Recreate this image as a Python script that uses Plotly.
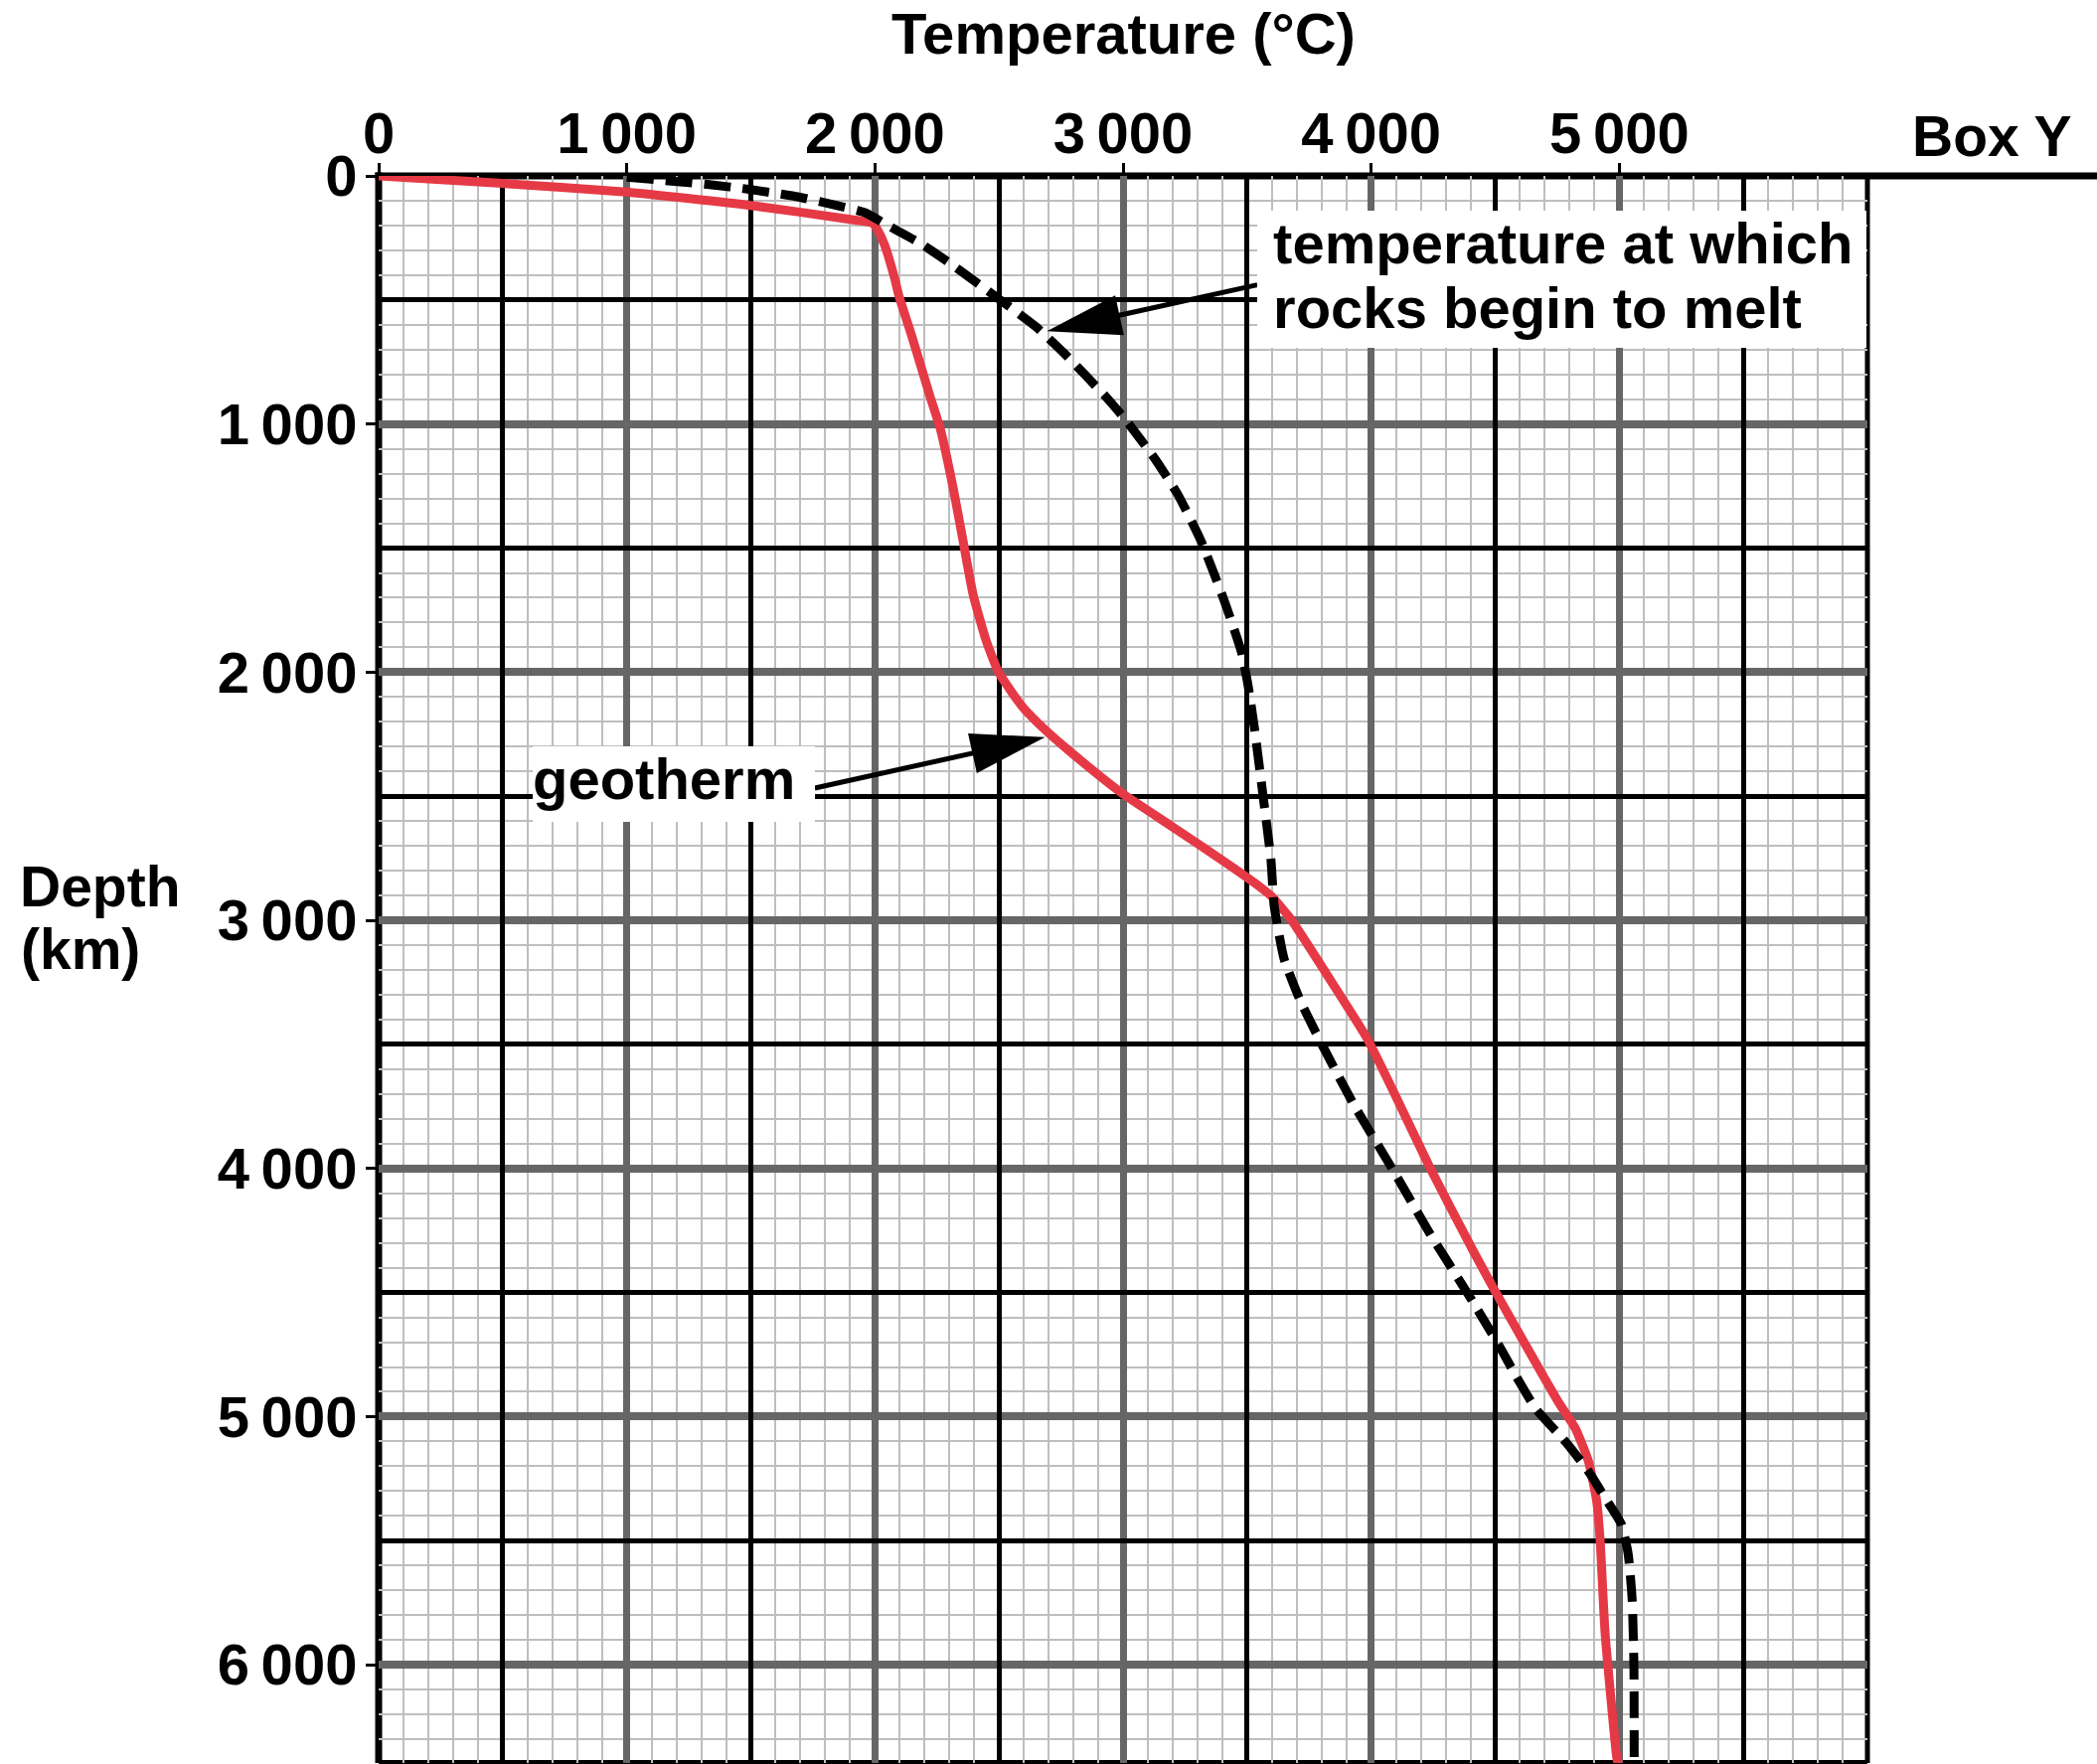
import math
import plotly.graph_objects as go

# ---------------- data ----------------
geotherm_temp = [0, 500, 1000, 1500, 1900, 1990, 2015, 2040, 2080, 2098, 2147, 2222,
                 2264, 2316, 2356, 2396, 2449, 2496, 2529, 2596, 2689, 2796, 2996,
                 3196, 3396, 3529, 3596, 3676, 3823, 3983, 4089, 4236, 4409, 4496,
                 4609, 4690, 4760, 4823, 4876, 4909, 4923, 4943, 4989, 4995]
geotherm_depth = [0, 30, 65, 119, 175, 190, 225, 281, 415, 488, 640, 888,
                  1021, 1261, 1475, 1688, 1875, 1995, 2048, 2141, 2235, 2328, 2488,
                  2621, 2755, 2848, 2901, 2995, 3221, 3475, 3688, 3995, 4328, 4488,
                  4688, 4830, 4950, 5048, 5181, 5341, 5501, 5875, 6368, 6400]

melt_temp = [1000, 1333, 1500, 1693, 1827, 1960, 2067, 2180, 2300, 2410, 2516, 2649,
             2763, 2929, 3009, 3129, 3223, 3316, 3409, 3476, 3503, 3529, 3563, 3596,
             3609, 3649, 3716, 3809, 3929, 4089, 4236, 4396, 4516, 4583, 4663, 4783,
             4876, 4943, 5009, 5036, 5052, 5059, 5060]
melt_depth = [5, 35, 55, 85, 115, 148, 208, 270, 350, 430, 508, 608,
              715, 888, 981, 1141, 1288, 1475, 1715, 1915, 2048, 2221, 2488, 2755,
              2941, 3155, 3328, 3515, 3741, 4008, 4261, 4515, 4715, 4835, 4968, 5101,
              5221, 5328, 5435, 5555, 5741, 6008, 6400]

temp_tick_vals = [0, 1000, 2000, 3000, 4000, 5000]
temp_tick_text = ["0", "1\u2009000", "2\u2009000", "3\u2009000", "4\u2009000", "5\u2009000"]
depth_tick_vals = [0, 1000, 2000, 3000, 4000, 5000, 6000]
depth_tick_text = ["0", "1\u2009000", "2\u2009000", "3\u2009000", "4\u2009000",
                   "5\u2009000", "6\u2009000"]
temp_half_lines = [500, 1500, 2500, 3500, 4500, 5500]
depth_half_lines = [500, 1500, 2500, 3500, 4500, 5500]

# annotation anchor points (temperature, depth)
melt_arrow_tip = (2693, 626)
melt_arrow_tail = (3541, 439)
geo_arrow_tip = (2686, 2262)
geo_arrow_tail = (1758, 2467)

# ---------------- layout geometry ----------------
W, H = 2110, 1775
ML, MT = 381, 177
PW, PH = 1498, 1597
MR = W - ML - PW
MB = H - MT - PH
X_RANGE = [0, 6000]
Y_RANGE = [6396, 0]

FONT = "Liberation Sans, Arial, Helvetica, sans-serif"
RED = "#E63946"
MINOR = "#BEBEBE"
MAJOR = "#666666"


def pxx(px):
    return (px - ML) / PW


def pxy(py):
    return 1 - (py - MT) / PH


def bold(size):
    return dict(family=FONT, size=size, color="black", weight="bold")


fig = go.Figure()

fig.add_trace(go.Scatter(x=geotherm_temp, y=geotherm_depth, mode="lines",
                         line=dict(color=RED, width=9, shape="spline", smoothing=0.5),
                         showlegend=False, hoverinfo="skip"))
fig.add_trace(go.Scatter(x=melt_temp, y=melt_depth, mode="lines",
                         line=dict(color="black", width=9, dash="27px,12px",
                                   shape="spline", smoothing=0.5),
                         showlegend=False, hoverinfo="skip"))
# dummy trace so the overlay axes (half-step grid lines) exist
fig.add_trace(go.Scatter(x=[None], y=[None], xaxis="x2", yaxis="y2",
                         showlegend=False, hoverinfo="skip"))

shapes = []


def add_arrow(tip, tail, head_len=300, head_hw=82, width=5):
    tx, ty = tip
    sx, sy = tail
    dx, dy = tx - sx, ty - sy
    L = math.hypot(dx, dy)
    ux, uy = dx / L, dy / L
    bx, by = tx - head_len * ux, ty - head_len * uy
    nx, ny = -uy, ux
    c1 = (bx + head_hw * nx, by + head_hw * ny)
    c2 = (bx - head_hw * nx, by - head_hw * ny)
    shapes.append(dict(type="line", xref="x", yref="y", x0=sx, y0=sy,
                       x1=bx + 20 * ux, y1=by + 20 * uy,
                       line=dict(color="black", width=width), layer="above"))
    shapes.append(dict(type="path", xref="x", yref="y",
                       path=f"M{tx},{ty} L{c1[0]},{c1[1]} L{c2[0]},{c2[1]} Z",
                       fillcolor="black", line=dict(width=0), layer="above"))


add_arrow(melt_arrow_tip, melt_arrow_tail)
add_arrow(geo_arrow_tip, geo_arrow_tail)

# frame lines
shapes += [
    dict(type="line", xref="paper", yref="paper", x0=0, x1=0, y0=0, y1=1 + 3.5 / PH,
         line=dict(color="black", width=7), layer="between"),
    dict(type="line", xref="paper", yref="paper", x0=-3.5 / PW, x1=pxx(W + 5), y0=1, y1=1,
         line=dict(color="black", width=7), layer="between"),
    dict(type="line", xref="paper", yref="paper", x0=1, x1=1, y0=0, y1=1,
         line=dict(color="black", width=5), layer="between"),
    dict(type="line", xref="paper", yref="paper", x0=0, x1=1, y0=0, y1=0,
         line=dict(color="black", width=6), layer="between"),
]

annotations = [
    dict(text="Temperature (°C)", xref="paper", yref="paper", x=0.5, y=pxy(34),
         xanchor="center", yanchor="middle", showarrow=False, font=bold(58)),
    dict(text="Box Y", xref="paper", yref="paper", x=pxx(2005), y=pxy(137),
         xanchor="center", yanchor="middle", showarrow=False, font=bold(57)),
    dict(text="Depth", xref="paper", yref="paper", x=pxx(18), y=pxy(892),
         xanchor="left", yanchor="middle", showarrow=False, font=bold(57)),
    dict(text="(km)", xref="paper", yref="paper", x=pxx(19), y=pxy(955),
         xanchor="left", yanchor="middle", showarrow=False, font=bold(57)),
    # melt label, second line first so the first line box sits on top
    dict(text="\u00a0rocks begin to melt", xref="paper", yref="paper",
         x=pxx(1265), y=pxy(277), xanchor="left", yanchor="top", showarrow=False,
         font=bold(58), bgcolor="white", borderpad=0, borderwidth=0,
         width=613, height=73, align="left", valign="top"),
    dict(text="\u00a0temperature at which", xref="paper", yref="paper",
         x=pxx(1265), y=pxy(212), xanchor="left", yanchor="top", showarrow=False,
         font=bold(58), bgcolor="white", borderpad=0, borderwidth=0,
         width=613, height=65, align="left", valign="middle"),
    dict(text="geotherm", xref="paper", yref="paper",
         x=pxx(536), y=pxy(751), xanchor="left", yanchor="top", showarrow=False,
         font=bold(58), bgcolor="white", borderpad=0, borderwidth=0,
         width=284, height=76, align="left", valign="top"),
]

fig.update_layout(
    width=W, height=H,
    margin=dict(l=ML, r=MR, t=MT, b=MB, pad=0, autoexpand=False),
    paper_bgcolor="white", plot_bgcolor="white",
    showlegend=False,
    shapes=shapes,
    annotations=annotations,
    xaxis=dict(
        range=X_RANGE, side="top", showline=False, zeroline=False,
        tickmode="array", tickvals=temp_tick_vals, ticktext=temp_tick_text,
        ticks="outside", ticklen=12, tickwidth=3, tickcolor="black",
        tickfont=bold(58), ticklabelstandoff=-13,
        showgrid=True, gridcolor=MAJOR, gridwidth=7,
        minor=dict(tickmode="linear", tick0=0, dtick=100, showgrid=True,
                   gridcolor=MINOR, gridwidth=2, ticks=""),
        automargin=False,
    ),
    yaxis=dict(
        range=Y_RANGE, showline=False, zeroline=False,
        tickmode="array", tickvals=depth_tick_vals, ticktext=depth_tick_text,
        ticks="outside", ticklen=12, tickwidth=3, tickcolor="black",
        tickfont=bold(58), ticklabelstandoff=-3,
        showgrid=True, gridcolor=MAJOR, gridwidth=8,
        minor=dict(tickmode="linear", tick0=0, dtick=100, showgrid=True,
                   gridcolor=MINOR, gridwidth=2, ticks=""),
        automargin=False,
    ),
    xaxis2=dict(
        range=X_RANGE, overlaying="x", side="top", anchor="y2",
        tickmode="array", tickvals=temp_half_lines, showticklabels=False,
        ticks="", showgrid=True, gridcolor="black", gridwidth=5,
        zeroline=False, showline=False,
    ),
    yaxis2=dict(
        range=Y_RANGE, overlaying="y", anchor="x2",
        tickmode="array", tickvals=depth_half_lines, showticklabels=False,
        ticks="", showgrid=True, gridcolor="black", gridwidth=5,
        zeroline=False, showline=False,
    ),
)

fig.write_html("out.html")
